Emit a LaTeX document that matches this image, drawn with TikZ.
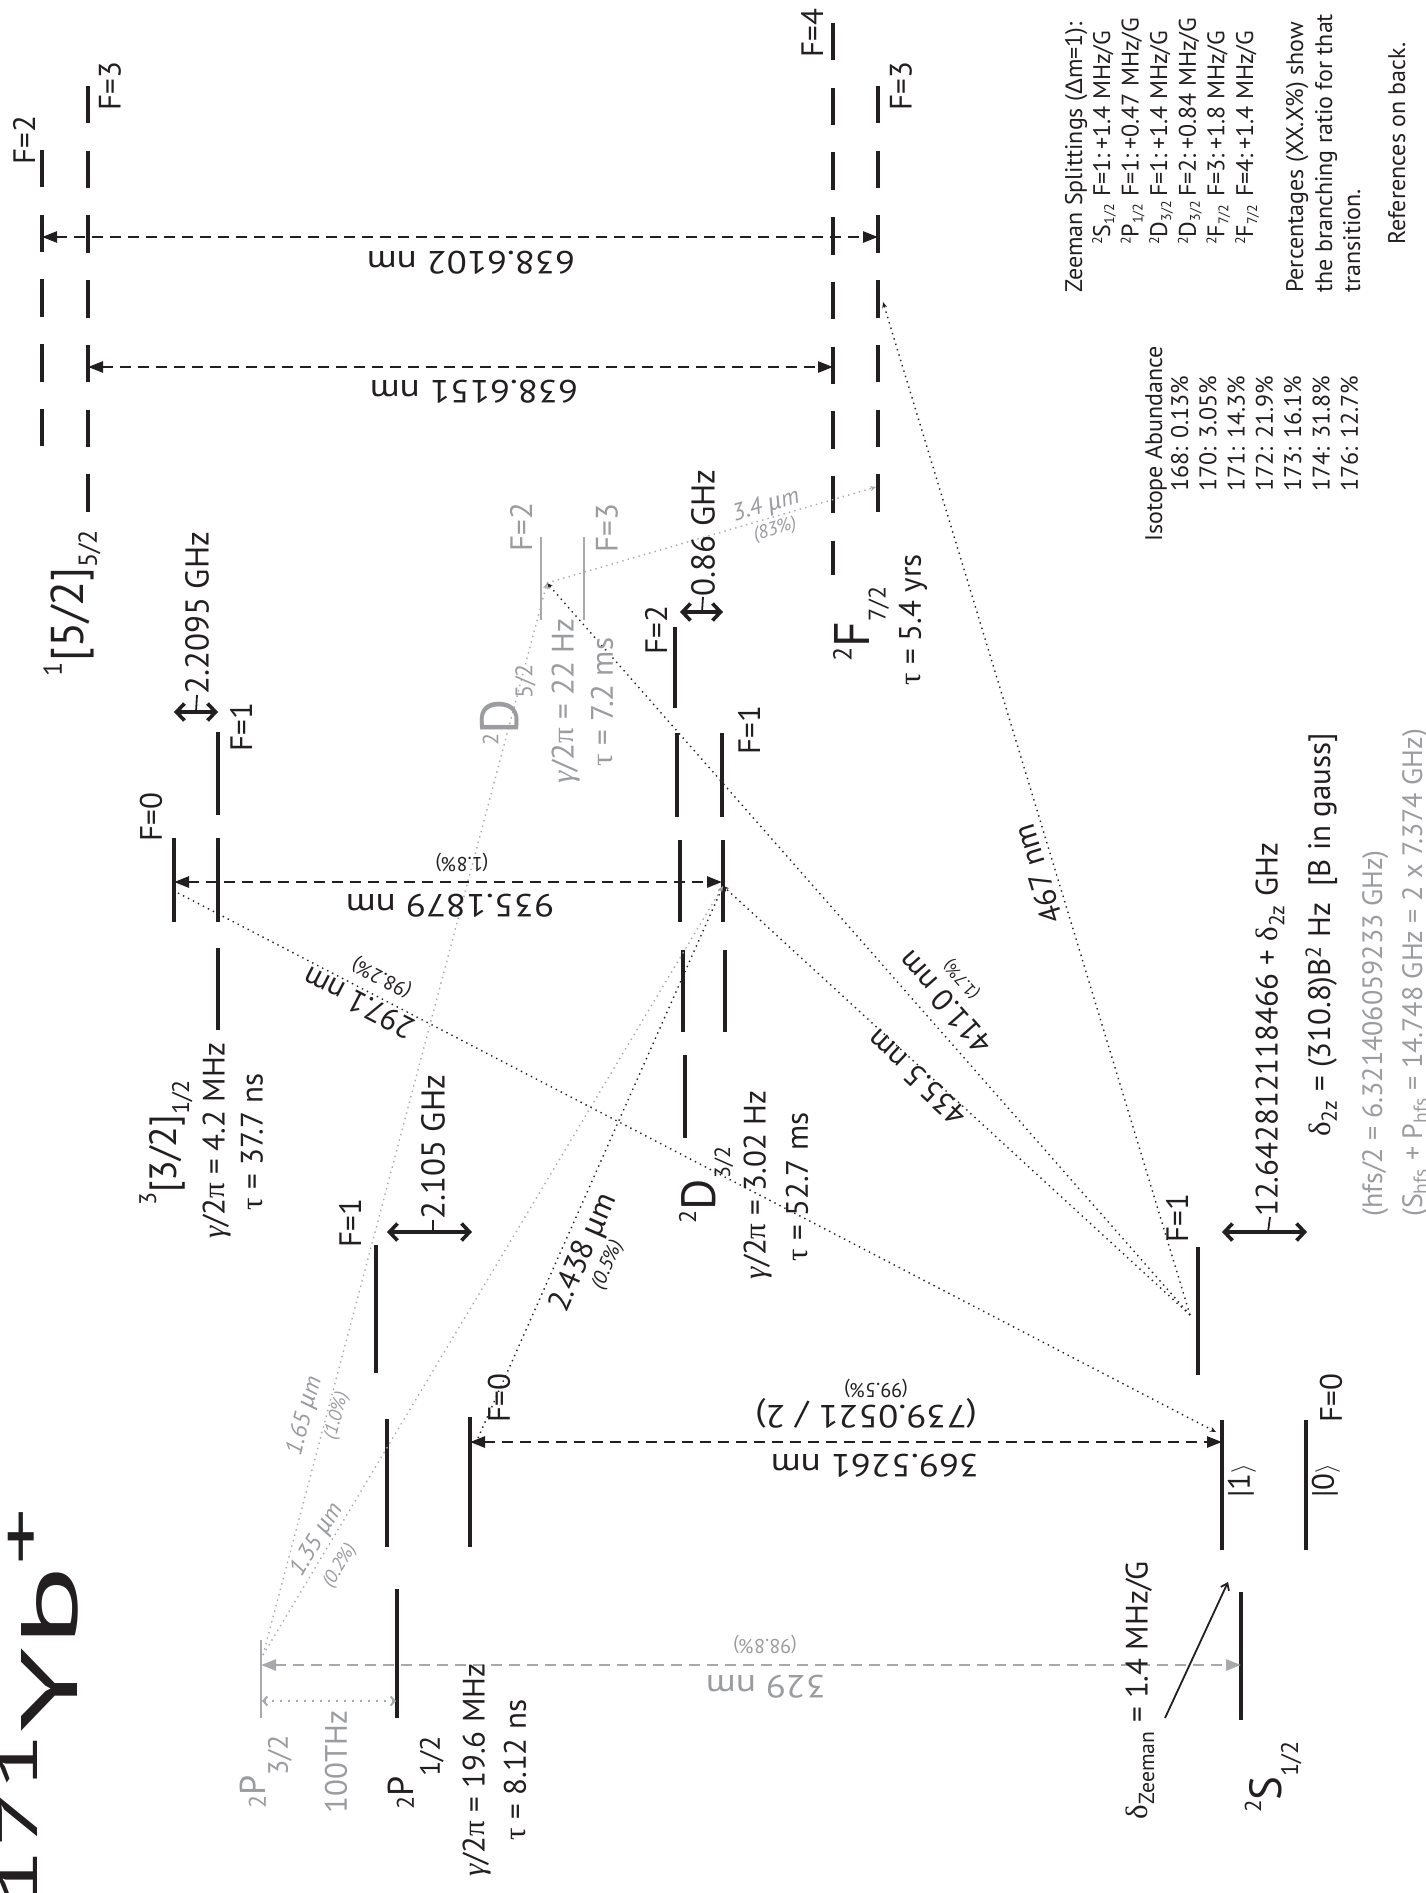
\documentclass[tikz,border=0pt]{standalone}
\usepackage{graphicx}
\usepackage{fontspec}
\setmainfont{PT Sans}
\newfontfamily\grk{Liberation Serif}
\newfontfamily\grs{Liberation Sans}
\usetikzlibrary{arrows.meta}

\definecolor{ink}{HTML}{231F20}
\definecolor{lgray}{HTML}{A7A9AC}
\definecolor{tgray}{HTML}{9A9C9F}

\newcommand{\fs}[1]{\fontsize{#1}{#1}\selectfont}
\newcommand{\gsym}{{\grk\itshape γ}}
\newcommand{\psym}{{\grk π}}
\newcommand{\tsym}{{\grk τ}}
\newcommand{\dsym}{{\grk δ}}
\newcommand{\umic}{{\grs µ}m}

\begin{document}
\begin{tikzpicture}[
    x=1pt, y=-1pt,
    lvl/.style={draw=ink, line width=4.2pt},
    dlvl/.style={lvl, dash pattern=on 37.4pt off 27.3pt},
    glvl/.style={draw=lgray, line width=2.2pt},
    wave/.style={draw=ink, line width=2.6pt, dash pattern=on 11pt off 7pt,
        {Triangle[length=15pt,width=11pt]}-{Triangle[length=15pt,width=11pt]}},
    gwave/.style={wave, draw=lgray},
    decay/.style={draw=ink, line width=1.4pt, dash pattern=on 1.4pt off 4.2pt,
        -{Stealth[length=6pt,width=5pt]}},
    gdecay/.style={decay, draw=lgray},
    hfs/.style={draw=ink, line width=3.6pt,
        {Straight Barb[length=8pt,width=17pt]}-{Straight Barb[length=8pt,width=17pt]}},
    tick/.style={draw=ink, line width=1.8pt},
    txt/.style={text=ink, inner sep=0pt, font=\fs{31}},
    vtxt/.style={txt, rotate=90},
    gvtxt/.style={vtxt, text=tgray},
    ftxt/.style={vtxt, font=\fs{33}, anchor=west},
    wtxt/.style={txt, rotate=180, xscale=1.15, font=\fs{32}},
    ptxt/.style={txt, font=\fs{20}},
    gslope/.style={txt, text=tgray, font=\fs{24}\itshape},
    gpct/.style={txt, text=tgray, font=\fs{19}\itshape},
    legtxt/.style={txt, rotate=90, anchor=base west, font=\fs{24}},
]
\useasboundingbox (0,0) rectangle (1425,1893);

% ── Levels ───────────────────────────────────────────────────
\foreach \nm/\x/\ya/\yb in {k2/42/150/447, k3/88/86/512,
                             f4/833/23/575, f3/878/86/512} {
    \coordinate (\nm-t) at (\x,\ya);
    \coordinate (\nm-b) at (\x,\yb);
    \draw[dlvl] (\nm-t) -- (\nm-b);
}
\foreach \nm/\x/\ya/\yb in {
    tz0/174/838/922, tzp/218/732/815, tzz/218/838/922, tzm/218/948/1030,
    d2a/675/627/708, d2b/677/733/817, d2c/680/840/922, d2d/683/950/1032,
    d2e/685/1055/1138, d1a/722/733/817, d1b/723/840/922, d1c/725/950/1032,
    p1p/376/1245/1373, p1z/387/1419/1547, p1m/397/1589/1718, p0/470/1417/1547,
    s1p/1198/1247/1375, s1z/1222/1420/1550, s1m/1241/1592/1720, s0/1306/1420/1550} {
    \coordinate (\nm-t) at (\x,\ya);
    \coordinate (\nm-b) at (\x,\yb);
    \draw[lvl] (\nm-t) -- (\nm-b);
}
\foreach \nm/\x/\ya/\yb in {d5f2/541/537/620, d5f3/584/537/620, p32/261/1640/1718} {
    \coordinate (\nm-t) at (\x,\ya);
    \coordinate (\nm-b) at (\x,\yb);
    \draw[glvl] (\nm-t) -- (\nm-b);
}

% ── Transition end points ────────────────────────────────────
\coordinate (w1a) at (42,237);    \coordinate (w1b) at (878,237);
\coordinate (w2a) at (88,367);    \coordinate (w2b) at (833,367);
\coordinate (w3a) at (174,882);   \coordinate (w3b) at (722,882);
\coordinate (w4a) at (470,1442);  \coordinate (w4b) at (1222,1442);
\coordinate (w5a) at (261,1665);  \coordinate (w5b) at (1241,1665);
\coordinate (t1a) at (262,1701);  \coordinate (t1b) at (396,1701);
\coordinate (h1a) at (174,712);   \coordinate (h1b) at (218,712);  \coordinate (h1m) at (196,712);
\coordinate (h2a) at (680,612);   \coordinate (h2b) at (723,612);  \coordinate (h2m) at (702,612);
\coordinate (h3a) at (387,1232);  \coordinate (h3b) at (472,1232); \coordinate (h3m) at (433,1232);
\coordinate (h4a) at (1222,1232); \coordinate (h4b) at (1307,1232); \coordinate (h4m) at (1268,1232);
\coordinate (c32) at (178,893);   \coordinate (cs1) at (1216,1432);
\coordinate (cs2) at (1190,1315); \coordinate (cd5) at (547,583);
\coordinate (cd3) at (723,886);   \coordinate (cf3) at (883,302);
\coordinate (cf3b) at (876,487);  \coordinate (cp3) at (263,1655);
\coordinate (cp1) at (478,1438);
\coordinate (za) at (1165,1718);  \coordinate (zb) at (1228,1582);

% ── Laser and decay lines ────────────────────────────────────
\draw[wave] (w1a) -- (w1b);
\draw[wave] (w2a) -- (w2b);
\draw[wave] (w3a) -- (w3b);
\draw[wave] (w4a) -- (w4b);
\draw[gwave] (w5a) -- (w5b);
\draw[draw=lgray, line width=2pt, dash pattern=on 2pt off 6pt,
      {Straight Barb[length=4pt,width=9pt]}-{Straight Barb[length=4pt,width=9pt]}] (t1a) -- (t1b);
\draw[decay] (c32) -- (cs1);
\draw[decay] (cs2) -- (cd5);
\draw[decay] (cs2) -- (cd3);
\draw[decay] (cs2) -- (cf3);
\draw[decay] (cp1) -- (cd3);
\draw[gdecay] (cd5) -- (cf3b);
\draw[gdecay] (cp3) -- (cd5);
\draw[gdecay] (cp3) -- (cd3);
\draw[draw=ink, line width=1.8pt, -{Straight Barb[length=6pt,width=9pt]}] (za) -- (zb);

% ── Hyperfine splittings ─────────────────────────────────────
\foreach \i in {1,...,4}
    \draw[hfs] (h\i a) -- (h\i b);
\node[ftxt] (hz1) at (197,695) {2.2095 GHz};
\node[ftxt] (hz2) at (703,597) {0.86 GHz};
\node[ftxt] (hz3) at (433,1220) {2.105 GHz};
\node[ftxt, font=\fs{31}] (hz4) at (1270,1217) {12.642812118466 + \dsym\textsubscript{2z} GHz};
\foreach \i in {1,...,4}
    \draw[tick] (h\i m) -- (hz\i.west);

% ── Title ────────────────────────────────────────────────────
\node[txt, font=\fs{80}, rotate=90, anchor=base east] (title) at (77,1508)
    {\scalebox{1.9}[1]{{\fs{56}\raisebox{40pt}{171}}Yb{\fs{60}\raisebox{36pt}{+}}}};

% ── Term labels ──────────────────────────────────────────────
\node[vtxt] (n52) at (72,603) {{\fs{26}\raisebox{22pt}{1}}{\fs{46}[5/2]}{\fs{26}\raisebox{-13pt}{5/2}}};
\node[vtxt] (n32) at (166,1143) {{\fs{24}\raisebox{20pt}{3}}{\fs{38}[3/2]}{\fs{24}\raisebox{-13pt}{1/2}}};
\node[vtxt] (g32) at (217,1141) {\gsym/2\psym\ = 4.2 MHz};
\node[vtxt] (t32) at (252,1142) {\tsym\ = 37.7 ns};
\node[gvtxt] (nd5) at (508,705) {{\fs{22}\raisebox{20pt}{2}}{\fs{54}D}{\fs{24}\raisebox{-14pt}{5/2}}};
\node[gvtxt] (gd5) at (566,701) {\gsym/2\psym\ = 22 Hz};
\node[gvtxt] (td5) at (602,702) {\tsym\ = 7.2 ms};
\node[vtxt] (nf7) at (861,624) {{\fs{26}\raisebox{18pt}{2}}{\fs{50}F}{\fs{24}\raisebox{-16pt}{7/2}}};
\node[vtxt] (tf7) at (913,620) {\tsym\ = 5.4 yrs};
\node[vtxt] (nd3) at (706,1185) {{\fs{24}\raisebox{19pt}{2}}{\fs{48}D}{\fs{22}\raisebox{-15pt}{3/2}}};
\node[vtxt] (gd3) at (758,1185) {\gsym/2\psym\ = 3.02 Hz};
\node[vtxt] (td3) at (797,1187) {\tsym\ = 52.7 ms};
\node[vtxt] (np1) at (416,1773) {{\fs{24}2}{\fs{36}P}{\fs{28}\raisebox{-26pt}{1/2}}};
\node[vtxt] (gp1) at (477,1770) {\gsym/2\psym\ = 19.6 MHz};
\node[vtxt] (tp1) at (515,1770) {\tsym\ = 8.12 ns};
\node[gvtxt] (np3) at (266,1772) {{\fs{24}2}{\fs{36}P}{\fs{28}\raisebox{-22pt}{3/2}}};
\node[gvtxt] (thz) at (336,1762) {100THz};
\node[vtxt] (ns1) at (1273,1777) {{\fs{23}\raisebox{20pt}{2}}{\fs{45}S}{\fs{24}\raisebox{-17pt}{1/2}}};
\node[vtxt] (zee) at (1140,1690) {\dsym\textsubscript{Zeeman} = 1.4 MHz/G};

% ── F labels ─────────────────────────────────────────────────
\foreach \x/\y/\t in {24/140/F=2, 110/86/F=3, 812/33/F=4, 901/86/F=3,
                      151/817/F=0, 241/727/F=1, 656/630/F=2, 749/730/F=1,
                      350/1223/F=1, 499/1398/F=0, 1177/1218/F=1, 1331/1398/F=0}
    \node[vtxt] (F\x) at (\x,\y) {\t};
\node[gvtxt] (F521) at (521,527) {F=2};
\node[gvtxt] (F607) at (607,528) {F=3};
\node[vtxt] (ket1) at (1242,1481) {|1$\rangle$};
\node[vtxt] (ket0) at (1326,1481) {|0$\rangle$};

% ── Wavelength labels ────────────────────────────────────────
\node[wtxt] (l6102) at (471,263) {638.6102 nm};
\node[wtxt] (l6151) at (474,392) {638.6151 nm};
\node[wtxt] (l935) at (450,906) {935.1879 nm};
\node[ptxt, rotate=180] (p935) at (462,862) {(1.8\%)};
\node[wtxt] (l369) at (875,1466) {369.5261 nm};
\node[wtxt] (l739) at (866,1413) {(739.0521 / 2)};
\node[ptxt, rotate=180] (p369) at (876,1388) {(99.5\%)};
\node[wtxt, text=tgray] (l329) at (766,1687) {329 nm};
\node[ptxt, rotate=180, text=tgray] (p329) at (765,1644) {(98.8\%)};
\node[txt, rotate=152.6] (l297) at (359,1003) {297.1 nm};
\node[ptxt, rotate=152.6] (p297) at (382,977) {(98.2\%)};
\node[txt, rotate=131.3] (l411) at (945,1003) {411.0 nm};
\node[ptxt, rotate=131.3, font=\fs{17}] (p411) at (962,979) {(1.7\%)};
\node[txt, rotate=137] (l435) at (917,1078) {435.5 nm};
\node[txt, rotate=107] (l467) at (1038,874) {467 nm};
\node[txt, rotate=66.4] (l2438) at (584,1253) {2.438 \umic};
\node[ptxt, rotate=66.4, font=\fs{20}\itshape] (p2438) at (608,1265) {(0.5\%)};
\node[gslope, rotate=59.3] (l135) at (317,1540) {1.35 \umic};
\node[gpct, rotate=59.3] (p135) at (340,1566) {(0.2\%)};
\node[gslope, rotate=75.2] (l165) at (305,1416) {1.65 \umic};
\node[gpct, rotate=75.2] (p165) at (337,1416) {(1.0\%)};
\node[gslope, rotate=16.3] (l34) at (766,506) {3.4 \umic};
\node[gpct, rotate=16.3] (p34) at (775,530) {(83\%)};

% ── Clock transition notes ───────────────────────────────────
\node[legtxt, font=\fs{31}] (dzz) at (1330,1137) {\dsym\textsubscript{2z} = (310.8)B\textsuperscript{2} Hz\ \ [B in gauss]};
\node[legtxt, font=\fs{28}, text=tgray] (hhalf) at (1382,1217) {(hfs/2 = 6.321406059233 GHz)};
\node[legtxt, font=\fs{28}, text=tgray] (hsum) at (1422,1217) {(S\textsubscript{hfs} + P\textsubscript{hfs} = 14.748 GHz = 2 x 7.374 GHz)};

% ── Isotopes ─────────────────────────────────────────────────
\node[legtxt] (iso) at (1162,542) {Isotope Abundance};
\foreach \m/\a [count=\i from 0] in {168/0.13, 170/3.05, 171/14.3, 172/21.9,
                                    173/16.1, 174/31.8, 176/12.7}
    \node[legtxt] (iso\m) at ({1188+28.3*\i},492) {\m: \a\%};

% ── Zeeman legend ────────────────────────────────────────────
\node[legtxt] (zhead) at (1082,293) {Zeeman Splittings ({\grs Δ}m=1):};
\foreach \L/\J/\F/\V [count=\i from 0] in {S/{1/2}/1/+1.4, P/{1/2}/1/+0.47,
        D/{3/2}/1/+1.4, D/{3/2}/2/+0.84, F/{7/2}/3/+1.8, F/{7/2}/4/+1.4} {
    \node[legtxt] (zs\i) at ({1110+28.6*\i},245)
        {{\fs{14}\raisebox{8pt}{2}}\L{\fs{14}\raisebox{-4pt}{\J}}};
    \node[legtxt] (zf\i) at ({1110+28.6*\i},197) {F=\F:};
    \node[legtxt] (zv\i) at ({1110+28.6*\i},150) {\V{} MHz/G};
}
\node[legtxt] (pc1) at (1303,293) {Percentages (XX.X\%) show};
\node[legtxt] (pc2) at (1332,293) {the branching ratio for that};
\node[legtxt] (pc3) at (1360,293) {transition.};
\node[legtxt] (refs) at (1405,245) {References on back.};

\end{tikzpicture}
\end{document}
